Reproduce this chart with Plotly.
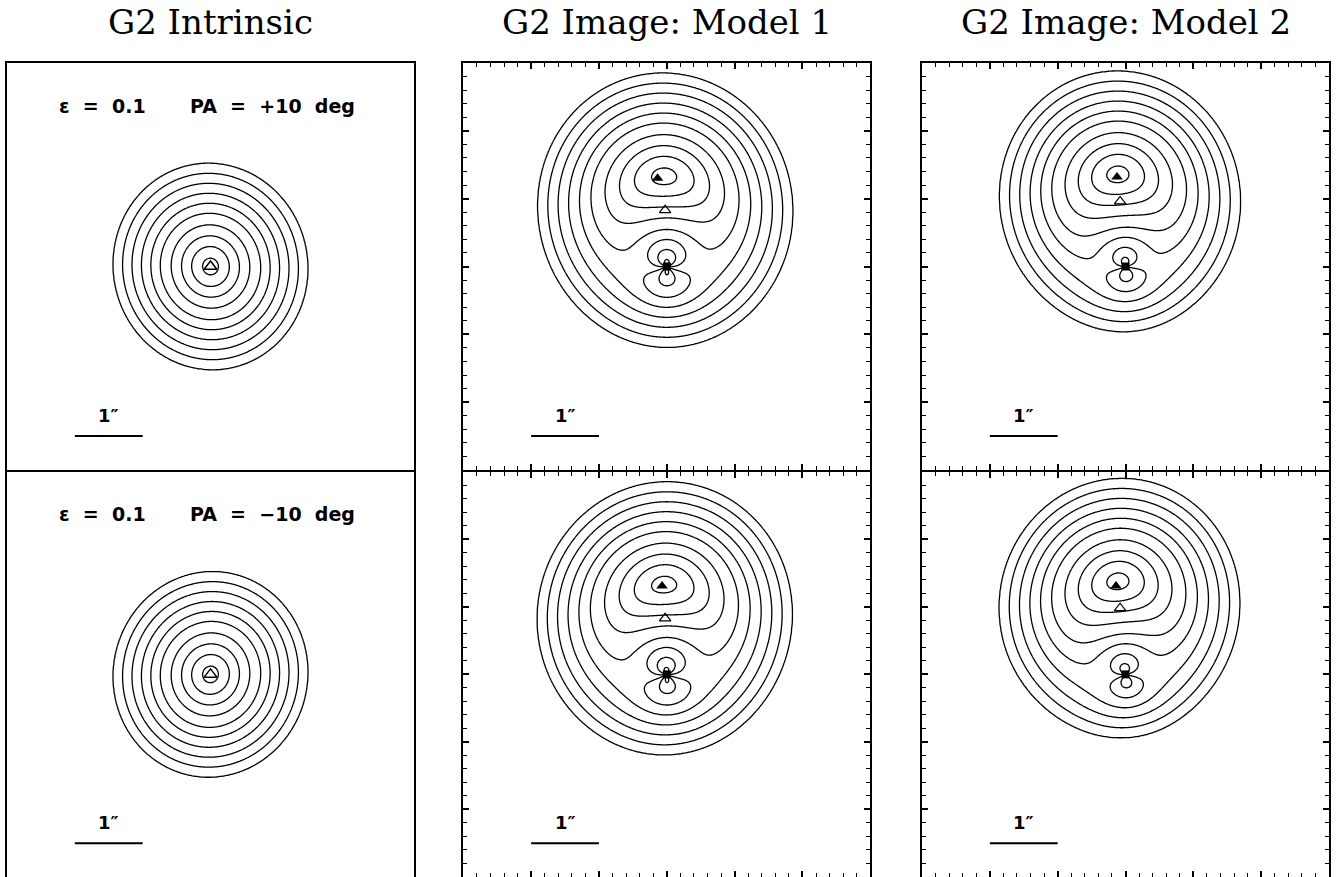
import numpy as np
import plotly.graph_objects as go

# ---------------- data ----------------
PX_PER_ARCSEC = 67.8
# intrinsic contour rings: radius along the major (near-vertical) axis, px
ring_radius_major_px = [8.3, 20.0, 30.7, 41.7, 53.3, 63.3, 73.3, 83.3, 93.3, 103.3]
contour_levels = [1, 2, 3, 4, 5, 6, 7, 8, 9, 10]
axis_ratio = 0.94
row_pa_deg = [10, -10]
row_labels_eps = ["ε\u00a0\u00a0=\u00a0\u00a00.1", "ε\u00a0\u00a0=\u00a0\u00a00.1"]
row_labels_pa = ["PA\u00a0\u00a0=\u00a0\u00a0+10\u00a0\u00a0deg", "PA\u00a0\u00a0=\u00a0\u00a0−10\u00a0\u00a0deg"]

titles = ["G2 Intrinsic", "G2 Image: Model 1", "G2 Image: Model 2"]
theta_E = [0.50, 0.40]  # arcsec, SIS lens strength per model
# per model, per row (top, bottom): positions relative to lens (arcsec, x right, y up)
source_x = [[-0.025, -0.025], [-0.08, -0.08]]
source_y = [[0.83, 0.83], [0.96, 0.98]]
image_x = [[-0.136, -0.07], [-0.125, -0.14]]
image_y = [[1.30, 1.31], [1.32, 1.31]]
lens_x = [0.0, 0.0]
lens_y = [0.0, 0.0]

scalebar_x = [-2.0, -1.0]
scalebar_y = -2.5
scalebar_label = "1″"
half_width = 3.0

# ---------------- layout geometry (px) ----------------
W, H = 1342, 877
LW = 1.8
col_x0 = [7.0, 463.3, 922.0]
panel = 407.0
row_y0 = [63.0, 470.0 + LW]


def source_level(dx, dy, pa):
    p = np.radians(pa)
    ux, uy = -np.sin(p), np.cos(p)
    vx, vy = np.cos(p), np.sin(p)
    sm = dx * ux + dy * uy
    sn = dx * vx + dy * vy
    R = np.sqrt(sm**2 + (sn / axis_ratio) ** 2)
    radii = [rr / PX_PER_ARCSEC for rr in ring_radius_major_px]
    return np.interp(R, [0.0] + radii + [20.0], [0.0] + contour_levels + [60.0])


n = 420
g = np.linspace(-half_width, half_width, n)
X, Y = np.meshgrid(g, g)

fig = go.Figure()
cs = [[0, "black"], [1, "black"]]
cdef = dict(start=contour_levels[0], end=contour_levels[-1], size=1, coloring="lines")


def axname(r, c):
    i = r * 3 + c + 1
    return ("x" if i == 1 else f"x{i}"), ("y" if i == 1 else f"y{i}")


for r in range(2):
    pa = row_pa_deg[r]
    xa, ya = axname(r, 0)
    Z = source_level(X, Y, pa).astype(np.float32)
    fig.add_trace(go.Contour(x=g, y=g, z=Z, xaxis=xa, yaxis=ya, contours=cdef,
                             colorscale=cs, showscale=False, line=dict(width=1.3), hoverinfo="skip"))
    fig.add_trace(go.Scatter(x=[0.0], y=[0.0], xaxis=xa, yaxis=ya, mode="markers",
                             marker=dict(symbol="triangle-up-open", size=11, color="black", line=dict(width=1.5)),
                             hoverinfo="skip"))
    for m in range(2):
        xa, ya = axname(r, m + 1)
        Rr = np.sqrt(X**2 + Y**2)
        fac = 1.0 - theta_E[m] / Rr
        BX = X * fac - source_x[m][r]
        BY = Y * fac - source_y[m][r]
        Z = source_level(BX, BY, pa).astype(np.float32)
        fig.add_trace(go.Contour(x=g, y=g, z=Z, xaxis=xa, yaxis=ya, contours=cdef,
                                 colorscale=cs, showscale=False, line=dict(width=1.3), hoverinfo="skip"))
        fig.add_trace(go.Scatter(x=[image_x[m][r]], y=[image_y[m][r]], xaxis=xa, yaxis=ya, mode="markers",
                                 marker=dict(symbol="triangle-up", size=10, color="black"), hoverinfo="skip"))
        fig.add_trace(go.Scatter(x=[source_x[m][r]], y=[source_y[m][r]], xaxis=xa, yaxis=ya, mode="markers",
                                 marker=dict(symbol="triangle-up-open", size=10, color="black", line=dict(width=1.2)),
                                 hoverinfo="skip"))
        fig.add_trace(go.Scatter(x=[lens_x[m]], y=[lens_y[m]], xaxis=xa, yaxis=ya, mode="markers",
                                 marker=dict(symbol="square", size=8, color="black"), hoverinfo="skip"))

annotations = []
layout = dict(width=W, height=H, margin=dict(l=0, r=0, t=0, b=0),
              paper_bgcolor="white", plot_bgcolor="white", showlegend=False)

for r in range(2):
    for c in range(3):
        i = r * 3 + c + 1
        xk = "xaxis" if i == 1 else f"xaxis{i}"
        yk = "yaxis" if i == 1 else f"yaxis{i}"
        xa, ya = axname(r, c)
        x0 = col_x0[c] / W
        x1 = (col_x0[c] + panel) / W
        y1 = 1 - row_y0[r] / H
        y0 = max(0.0, 1 - (row_y0[r] + panel) / H)
        common = dict(range=[-half_width, half_width], showgrid=False, zeroline=False,
                      showticklabels=False, showline=True, linecolor="black", linewidth=LW,
                      fixedrange=True)
        if c == 0:
            tick = dict(ticks="", mirror=True)
        else:
            tick = dict(ticks="inside", ticklen=6, tickwidth=1.5, tickcolor="black",
                        dtick=1, tick0=0, mirror="ticks",
                        minor=dict(ticks="inside", ticklen=4, tickwidth=1.3, dtick=0.2, tick0=0,
                                   tickcolor="black", showgrid=False))
        layout[xk] = dict(domain=[x0, x1], anchor=ya, **common, **tick)
        layout[yk] = dict(domain=[y0, y1], anchor=xa, **common, **tick)
        fig.add_trace(go.Scatter(x=scalebar_x, y=[scalebar_y, scalebar_y], xaxis=xa, yaxis=ya,
                                 mode="lines", line=dict(color="black", width=2), hoverinfo="skip"))
        annotations.append(dict(x=float(np.mean(scalebar_x)), y=scalebar_y + 0.31, xref=xa, yref=ya,
                                text=scalebar_label, showarrow=False, yanchor="middle",
                                font=dict(family="DejaVu Sans", size=18, color="black", weight="bold")))
    xa, ya = axname(r, 0)
    annotations.append(dict(x=-2.27, y=2.37, xref=xa, yref=ya, text=row_labels_eps[r], showarrow=False,
                            xanchor="left", yanchor="middle",
                            font=dict(family="DejaVu Sans", size=19, color="black", weight="bold")))
    annotations.append(dict(x=2.16, y=2.37, xref=xa, yref=ya, text=row_labels_pa[r], showarrow=False,
                            xanchor="right", yanchor="middle",
                            font=dict(family="DejaVu Sans", size=19, color="black", weight="bold")))

title_cx = [210.5, 667.0, 1125.5]
for c in range(3):
    annotations.append(dict(x=title_cx[c] / W, y=1 - 22 / H, xref="paper", yref="paper",
                            text=titles[c], showarrow=False, xanchor="center", yanchor="middle",
                            font=dict(family="DejaVu Serif", size=34, color="black")))

layout["annotations"] = annotations
fig.update_layout(**layout)
fig.write_html("out.html", config={"displayModeBar": False},
               post_script="document.body.style.margin='0px';")
